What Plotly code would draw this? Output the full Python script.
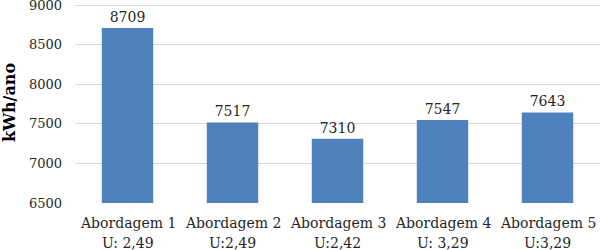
import plotly.graph_objects as go

cat_names = ["Abordagem 1", "Abordagem 2", "Abordagem 3", "Abordagem 4", "Abordagem 5"]
u_labels = ["U: 2,49", "U:2,49", "U:2,42", "U: 3,29", "U:3,29"]
values = [8709, 7517, 7310, 7547, 7643]
y_ticks = [6500, 7000, 7500, 8000, 8500, 9000]

font = "DejaVu Serif"
txt = "#262626"
xs = list(range(len(cat_names)))

fig = go.Figure(go.Bar(
    x=xs, y=values,
    marker=dict(color="#4F81BD", line=dict(width=0)),
    text=[str(v) for v in values], textposition="outside",
    textfont=dict(family=font, size=14, color=txt),
    cliponaxis=False, width=0.49,
))

for i in xs:
    fig.add_annotation(x=i, y=0, xref="x", yref="paper", yanchor="top", yshift=-10,
                       text=cat_names[i], showarrow=False,
                       font=dict(family=font, size=14, color=txt))
    fig.add_annotation(x=i, y=0, xref="x", yref="paper", yanchor="top", yshift=-30,
                       text=u_labels[i], showarrow=False,
                       font=dict(family=font, size=14, color=txt))

fig.update_layout(
    width=600, height=250,
    margin=dict(l=75, r=0, t=2, b=47),
    plot_bgcolor="white", paper_bgcolor="white",
    showlegend=False,
    font=dict(family=font, color=txt),
    xaxis=dict(
        range=[-0.5, 4.5], tickvals=xs, showticklabels=False,
        showgrid=False, zeroline=False, showline=False, ticks="", automargin=False,
    ),
    yaxis=dict(
        range=[6500, 9038], tickvals=y_ticks,
        tickfont=dict(family=font, size=13, color=txt),
        showgrid=True, gridcolor="#D9D9D9", gridwidth=1,
        zeroline=False, showline=False, ticks="", ticklabelstandoff=12,
        ticklabeloverflow="allow", automargin=False,
        title=dict(text="<b>kWh/ano</b>", font=dict(family=font, size=16, color="#000000"), standoff=10),
    ),
)

fig.write_html("out.html", config={"displayModeBar": False},
               post_script="document.body.style.margin='0';document.body.style.padding='0';")
